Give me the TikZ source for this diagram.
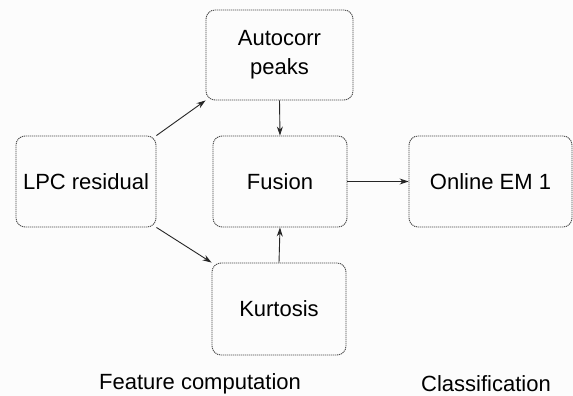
\documentclass[tikz,border=0pt]{standalone}
\usepackage{fontspec}
\setmainfont{Liberation Sans}
\usetikzlibrary{arrows.meta}
\begin{document}
\begin{tikzpicture}[x=1pt,y=-1pt,
  box/.style={draw=gray!60!black, line width=0.9pt, dash pattern=on 1.2pt off 0.8pt,
    rounded corners=9pt, inner sep=0pt, font=\fontsize{22}{29}\selectfont, align=center},
  conn/.style={draw=black!85, line width=0.9pt, -{Stealth[length=9pt,width=6pt]}},
  lab/.style={font=\fontsize{22}{26}\selectfont}]
\fill[white!98!gray] (0,0) rectangle (573,396);
\useasboundingbox (0,0) rectangle (573,396);
\node[box, minimum width=147pt, minimum height=90pt] (auto) at (279.5,55) {Autocorr\\peaks};
\node[box, minimum width=140pt, minimum height=91pt] (lpc) at (86,181.5) {LPC residual};
\node[box, minimum width=134pt, minimum height=91pt] (fus) at (280,181.5) {Fusion};
\node[box, minimum width=163pt, minimum height=91pt] (em) at (490.5,181.5) {Online EM 1};
\node[box, minimum width=134pt, minimum height=92pt] (kur) at (279,309) {Kurtosis};
\node[lab] (fc) at (200,384) {Feature computation};
\node[lab] (cl) at (486,384) {Classification};
\draw[conn] (lpc.north east) -- (auto.south west);
\draw[conn] (lpc.south east) -- (kur.north west);
\draw[conn] (auto.south) -- (fus.north);
\draw[conn] (kur.north) -- (fus.south);
\draw[conn] (fus.east) -- (em.west);
\end{tikzpicture}
\end{document}
